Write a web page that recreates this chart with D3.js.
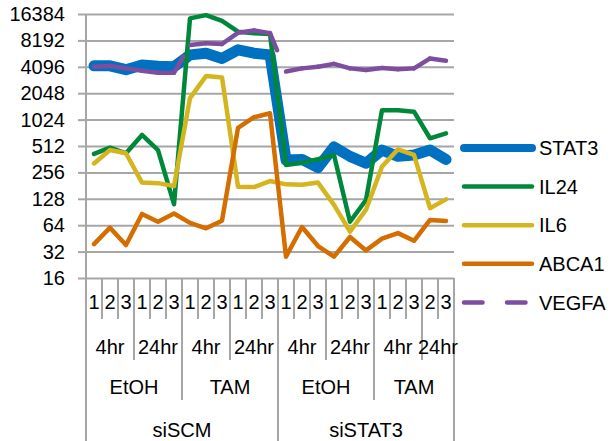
<!DOCTYPE html>
<html>
<head>
<meta charset="utf-8">
<script src="https://cdn.jsdelivr.net/npm/d3@7"></script>
<style>
  body { margin: 0; background: #fff; }
  svg { font-family: "Liberation Sans", Arial, sans-serif; }
</style>
</head>
<body>
<svg id="chart_svg" width="611" height="441"></svg>
<script>
// category levels, innermost first
const replicate = ["1","2","3","1","2","3","1","2","3","1","2","3",
                   "1","2","3","1","2","3","1","2","3","2","3"]
const timepoint = ["4hr","4hr","4hr","24hr","24hr","24hr","4hr","4hr","4hr","24hr","24hr","24hr",
                   "4hr","4hr","4hr","24hr","24hr","24hr","4hr","4hr","4hr","24hr","24hr"]
const treatment = ["EtOH","EtOH","EtOH","EtOH","EtOH","EtOH","TAM","TAM","TAM","TAM","TAM","TAM",
                   "EtOH","EtOH","EtOH","EtOH","EtOH","EtOH","TAM","TAM","TAM","TAM","TAM"]
const sirna = ["siSCM","siSCM","siSCM","siSCM","siSCM","siSCM","siSCM","siSCM","siSCM","siSCM","siSCM","siSCM",
               "siSTAT3","siSTAT3","siSTAT3","siSTAT3","siSTAT3","siSTAT3","siSTAT3","siSTAT3","siSTAT3","siSTAT3","siSTAT3"]

const yTicks = [16, 32, 64, 128, 256, 512, 1024, 2048, 4096, 8192, 16384]

const seriesNames = ["STAT3", "IL24", "IL6", "ABCA1", "VEGFA"]
const stat3 = [4200, 4200, 3800, 4300, 4150, 4100, 5600, 5850, 5100, 6400, 5850, 5600,
               355, 360, 290, 500, 390, 325, 460, 390, 405, 460, 360]
const il24 = [416, 490, 423, 685, 460, 111, 14600, 15900, 13700, 10300, 9900, 9700,
              311, 330, 362, 405, 70, 124, 1310, 1310, 1260, 627, 714]
const il6 = [324, 460, 423, 196, 193, 179, 1800, 3210, 3100, 176, 174, 204,
             187, 185, 196, 109, 54, 96, 298, 469, 405, 100, 126]
const abca1 = [39, 60, 38, 86, 70, 87, 68, 59, 72, 826, 1090, 1210,
               28, 61, 37, 28, 47, 33, 45, 52, 42.5, 73.5, 71.5]
const vegfa = [4100, 4180, 3930, 3690, 3510, 3510, 7270, 7600, 7450, 10000, 10600, 9900,
               3620, 3930, 4100, 4420, 3930, 3770, 3980, 3850, 3930, 5100, 4800]

const colors = ["#0070c0", "#00883a", "#d4b520", "#d46e00", "#7d4ea0"]
const widths = [11, 4.5, 4.5, 4.5, 4.5]

const series = [stat3, il24, il6, abca1, vegfa].map((values, i) => ({
  name: seriesNames[i], values: values, color: colors[i], width: widths[i], dashed: i === 4
}))

/**
 * Plot area
 */
const plot = { left: 86, right: 454, top: 14, bottom: 278 }
const rowCenters = [302, 347, 387, 430]   // replicate, time, treatment, siRNA
const rowBottoms = [319, 360, 400, 441]

let svg = d3.select("#chart_svg")
const idx = d3.range(replicate.length)

const xScale = d3.scaleBand().domain(idx).range([plot.left, plot.right])
const yScale = d3.scaleLog().base(2).domain([16, 16384]).range([plot.bottom, plot.top])
const cx = (i) => xScale(i) + xScale.bandwidth() / 2

/**
 * Gridlines and y axis
 */
let y_axis = d3.axisLeft(yScale).tickValues(yTicks).tickFormat(d3.format("d")).tickSize(8).tickPadding(13)
let y_grid = d3.axisLeft(yScale).tickValues(yTicks).tickSize(-(plot.right - plot.left)).tickFormat("")

svg.append("g").attr("class", "y_grid")
  .attr("transform", `translate(${plot.left},0)`)
  .call(y_grid)
  .call((g) => g.select(".domain").remove())
  .selectAll("line").attr("stroke", "#a6a6a6").attr("stroke-width", 2)

svg.append("g").attr("class", "y_axis")
  .attr("transform", `translate(${plot.left},0)`)
  .call(y_axis)
  .call((g) => g.select(".domain").remove())
  .call((g) => g.selectAll("line").attr("stroke", "#a6a6a6").attr("stroke-width", 2))
  .call((g) => g.selectAll("text").attr("font-size", 20).attr("fill", "#000")
    .attr("font-family", "'Liberation Sans', Arial, sans-serif"))

// vertical axis line runs down through the category rows
svg.append("line")
  .attr("x1", plot.left).attr("x2", plot.left)
  .attr("y1", plot.top).attr("y2", rowBottoms[3])
  .attr("stroke", "#a6a6a6").attr("stroke-width", 2)

/**
 * Multi-level category axis
 */
const levels = [replicate, timepoint, treatment, sirna]
// key of category i at level l includes all outer levels
const keyAt = (l, i) => levels.slice(l).map((arr) => arr[i]).join("|")

let boundaries = d3.range(replicate.length + 1).map((b) => {
  let depth = 0
  if (b === 0 || b === replicate.length) depth = 3
  else {
    for (let l = 3; l >= 1; l--) {
      if (keyAt(l, b - 1) !== keyAt(l, b)) { depth = l; break }
    }
  }
  return { b: b, depth: depth }
})

let xPos = (b) => b < replicate.length ? xScale(b) : plot.right

svg.append("g").attr("class", "x_ticks")
  .selectAll("line")
  .data(boundaries.filter((d) => d.b > 0))
  .join("line")
  .attr("x1", (d) => xPos(d.b)).attr("x2", (d) => xPos(d.b))
  .attr("y1", plot.bottom).attr("y2", (d) => rowBottoms[d.depth])
  .attr("stroke", "#a6a6a6").attr("stroke-width", 2)

// label runs for every level
let labelData = []
levels.forEach((arr, l) => {
  let start = 0
  idx.forEach((i) => {
    if (i === idx.length - 1 || keyAt(l, i) !== keyAt(l, i + 1)) {
      labelData.push({ text: arr[i], level: l, x: (xScale(start) + xPos(i + 1)) / 2 })
      start = i + 1
    }
  })
})

svg.append("g").attr("class", "x_labels")
  .selectAll("text")
  .data(labelData)
  .join("text")
  .attr("x", (d) => d.x)
  .attr("y", (d) => rowCenters[d.level])
  .attr("dy", "0.36em")
  .attr("text-anchor", "middle")
  .attr("font-size", 20)
  .text((d) => d.text)

/**
 * Lines
 */
let line = d3.line().x((d) => cx(d.i)).y((d) => yScale(d.v))

let g_lines = svg.append("g").attr("class", "lines")
series.forEach((s) => {
  let pts = s.values.map((v, i) => ({ i: i, v: v }))
  if (!s.dashed) {
    g_lines.append("path")
      .attr("d", line(pts))
      .attr("fill", "none")
      .attr("stroke", s.color)
      .attr("stroke-width", s.width)
      .attr("stroke-linejoin", "round")
      .attr("stroke-linecap", "round")
  } else {
    // dash pattern restarts on every segment
    g_lines.selectAll(".seg").data(d3.pairs(pts)).join("path")
      .attr("class", "seg")
      .attr("d", (d) => line(d))
      .attr("fill", "none")
      .attr("stroke", s.color)
      .attr("stroke-width", s.width)
      .attr("stroke-linecap", "round")
      .attr("stroke-dasharray", "18.5,24.5")
  }
})

/**
 * Legend
 */
let legend = svg.append("g").attr("class", "legend")
let legend_items = legend.selectAll(".legend_item")
  .data(series)
  .join("g")
  .attr("class", "legend_item")
  .attr("transform", (d, i) => `translate(0, ${148 + i * 38.6})`)

legend_items.append("line")
  .attr("x1", 464).attr("x2", 532)
  .attr("stroke", (d) => d.color)
  .attr("stroke-width", (d) => d.name === "STAT3" ? 8 : 4.5)
  .attr("stroke-linecap", "round")
  .attr("stroke-dasharray", (d) => d.dashed ? "18.5,24.5" : null)

legend_items.append("text")
  .attr("x", 539)
  .attr("dy", "0.36em")
  .attr("font-size", 20)
  .text((d) => d.name)
</script>
</body>
</html>
